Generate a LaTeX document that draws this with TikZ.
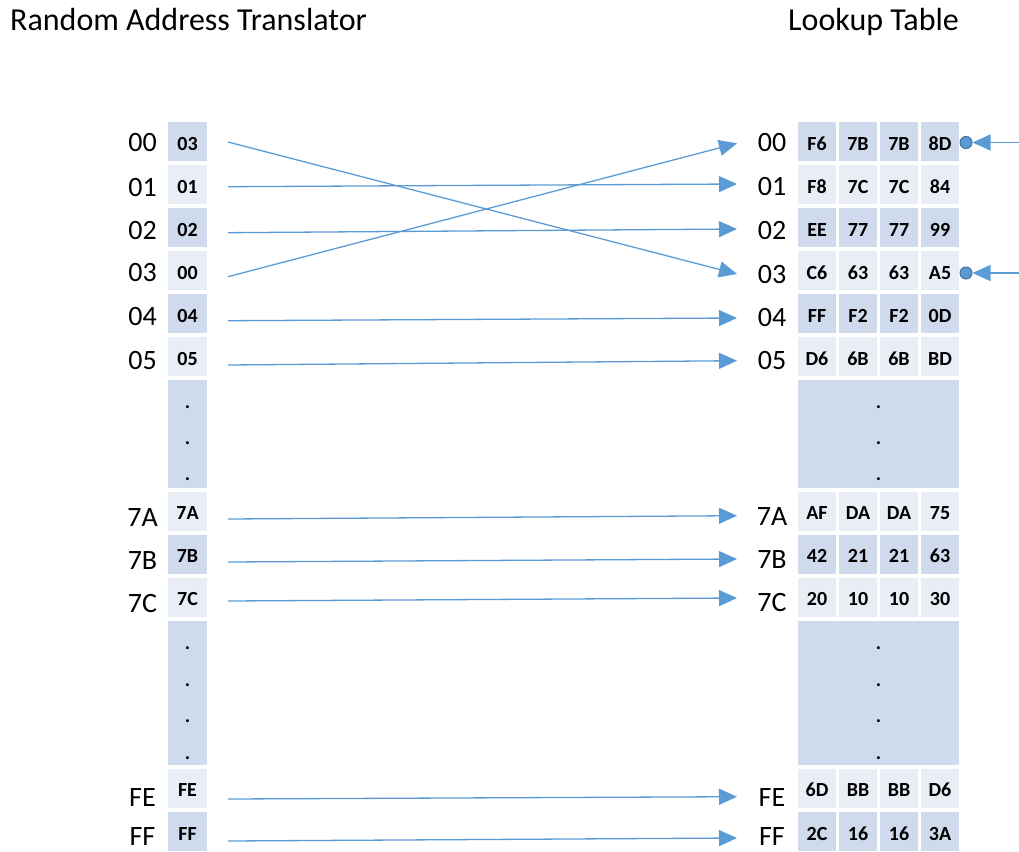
\documentclass[tikz,border=0pt]{standalone}
\usepackage{fontspec}
\setmainfont{Carlito}
\usetikzlibrary{arrows.meta}
\definecolor{cdark}{RGB}{207,218,236}
\definecolor{clight}{RGB}{233,237,246}
\definecolor{arrowblue}{RGB}{91,155,213}
\definecolor{dotblue}{RGB}{65,113,156}
\begin{document}
\begin{tikzpicture}[x=1pt,y=-1pt,
  cellL/.style={minimum width=39pt, minimum height=39pt, inner sep=0pt, outer sep=0pt,
    text height=17pt, text depth=0pt, font=\fontsize{20}{23}\selectfont\bfseries},
  cellR/.style={minimum width=38pt, minimum height=39pt, inner sep=0pt, outer sep=0pt,
    text height=17pt, text depth=0pt, font=\fontsize{20}{23}\selectfont\bfseries},
  rowlab/.style={inner sep=0pt, font=\fontsize{28}{32}\selectfont},
  titletext/.style={inner sep=0pt, anchor=base west, font=\fontsize{32}{36}\selectfont},
  dotmark/.style={inner sep=0pt, font=\fontsize{20}{23}\selectfont\bfseries},
  blockfill/.style={fill=cdark, inner sep=0pt, outer sep=0pt},
  conn/.style={draw=arrowblue, line width=1.3pt, -{Triangle[length=18pt,width=16pt]}},
  tapdot/.style={circle, fill=arrowblue, draw=dotblue, line width=1pt, minimum size=12pt, inner sep=0pt}
]
\useasboundingbox (0,0) rectangle (1019,851);

% titles
\node[titletext] (t1) at (10,31) {Random Address Translator};
\node[titletext] (t2) at (788,31) {Lookup Table};

% left column cells and labels
\foreach \n/\y/\c/\t/\ly in {00/141.5/cdark/03/143, 01/184.5/clight/01/187.5,
    02/227.5/cdark/02/230.7, 03/270.5/clight/00/273, 04/313.5/cdark/04/317,
    05/356.5/clight/05/361, 7A/511/clight/7A/518, 7B/554/cdark/7B/561,
    7C/597/clight/7C/604, FE/788/clight/FE/797.5, FF/831.5/cdark/FF/837}{
  \node[cellL, fill=\c] (L\n) at (187.5,\y) {\t};
  \node[rowlab] (LL\n) at (142.5,\ly) {\n};
}

% right table rows
\foreach \n/\y/\c/\a/\b/\cc/\d/\ly in {00/141.5/cdark/F6/7B/7B/8D/143,
    01/184.5/clight/F8/7C/7C/84/186.5, 02/227.5/cdark/EE/77/77/99/231,
    03/270.5/clight/C6/63/63/A5/274.5, 04/313.5/cdark/FF/F2/F2/0D/317.5,
    05/356.5/clight/D6/6B/6B/BD/361, 7A/511/clight/AF/DA/DA/75/517,
    7B/554/cdark/42/21/21/63/560, 7C/597/clight/20/10/10/30/603,
    FE/788/clight/6D/BB/BB/D6/797.5, FF/831.5/cdark/2C/16/16/3A/837}{
  \node[cellR, fill=\c] (R\n-1) at (817,\y) {\a};
  \node[cellR, fill=\c] (R\n-2) at (858,\y) {\b};
  \node[cellR, fill=\c] (R\n-3) at (899,\y) {\cc};
  \node[cellR, fill=\c] (R\n-4) at (940,\y) {\d};
  \node[rowlab] (RL\n) at (772,\ly) {\n};
}

% ellipsis blocks
\node[blockfill, minimum width=39pt, minimum height=108pt] (Ldots1) at (187.5,434) {};
\node[blockfill, minimum width=161pt, minimum height=108pt] (Rdots1) at (878.5,434) {};
\node[blockfill, minimum width=39pt, minimum height=144pt] (Ldots2) at (187.5,693) {};
\node[blockfill, minimum width=161pt, minimum height=144pt] (Rdots2) at (878.5,693) {};
\foreach \y [count=\k] in {407,443,479}{
  \node[dotmark] (ld1-\k) at (187.5,\y) {.};
  \node[dotmark] (rd1-\k) at (878.5,\y) {.};
}
\foreach \y [count=\k] in {648,685,721,758}{
  \node[dotmark] (ld2-\k) at (187.5,\y) {.};
  \node[dotmark] (rd2-\k) at (878.5,\y) {.};
}

% connector end points
\foreach \n/\ys in {00/142, 01/186.7, 02/232.7, 03/276.7,
    04/320.7, 05/365, 7A/519, 7B/562, 7C/601, FE/799, FF/841}{
  \coordinate (s\n) at (228,\ys);
}
\coordinate (e00) at (737,143.3);
\coordinate (e01) at (737,184);
\coordinate (e02) at (737,229);
\coordinate (e03) at (737,274);
\coordinate (e04) at (737,318);
\coordinate (e05) at (737,360.7);
\coordinate (e7A) at (737,515.7);
\coordinate (e7B) at (737,559);
\coordinate (e7C) at (737,598);
\coordinate (eFE) at (737,796.7);
\coordinate (eFF) at (737,838);

% translator connectors
\draw[conn] (s00) -- (e03);
\draw[conn] (s01) -- (e01);
\draw[conn] (s02) -- (e02);
\draw[conn] (s03) -- (e00);
\draw[conn] (s04) -- (e04);
\draw[conn] (s05) -- (e05);
\draw[conn] (s7A) -- (e7A);
\draw[conn] (s7B) -- (e7B);
\draw[conn] (s7C) -- (e7C);
\draw[conn] (sFE) -- (eFE);
\draw[conn] (sFF) -- (eFF);

% taps on the right
\node[tapdot] (tap0) at (966,142.5) {};
\node[tapdot] (tap3) at (966,273) {};
\coordinate (in0) at (1019,142.5);
\coordinate (in3) at (1019,273);
\draw[conn] (in0) -- (tap0.east);
\draw[conn] (in3) -- (tap3.east);
\end{tikzpicture}
\end{document}
